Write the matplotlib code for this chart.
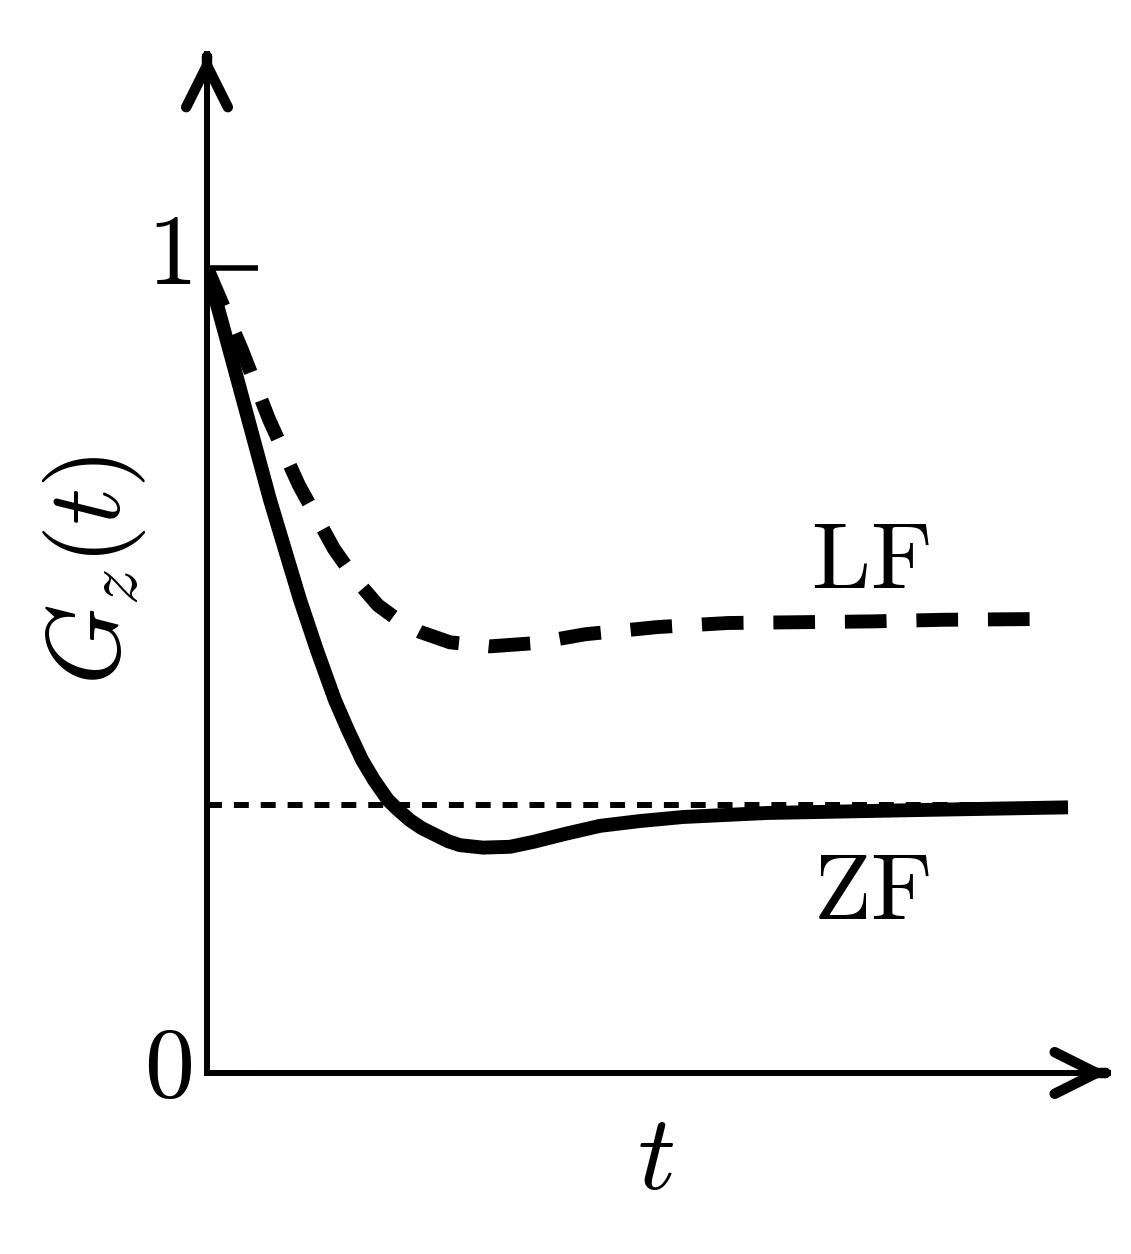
import matplotlib
matplotlib.use("Agg")
import matplotlib.pyplot as plt

plt.rcParams['mathtext.fontset'] = 'cm'
plt.rcParams['font.family'] = ['DejaVu Sans']

# ---- data (t in arbitrary units, G_z(t)) ----
zf_t = [0.00, 0.17, 0.36, 0.63, 0.93, 1.10, 1.28, 1.41, 1.55, 1.67, 1.81, 1.91,
        2.03, 2.15, 2.28, 2.41, 2.53, 2.76, 3.03, 3.26, 3.58, 3.93, 4.33, 4.76,
        5.60, 6.43, 7.26, 8.61]
zf_g = [1.000, 0.923, 0.836, 0.712, 0.588, 0.525, 0.463, 0.426, 0.389, 0.364, 0.339, 0.327,
        0.314, 0.304, 0.296, 0.288, 0.283, 0.280, 0.281, 0.287, 0.297, 0.307, 0.313, 0.318,
        0.323, 0.325, 0.327, 0.330]

lf_t = [0.00, 0.35, 0.62, 0.92, 1.27, 1.48, 1.71, 1.93, 2.13, 2.43, 2.83, 3.28, 3.78,
        4.51, 5.21, 5.93, 6.65, 7.36, 8.36]
lf_g = [1.000, 0.898, 0.812, 0.730, 0.651, 0.614, 0.581, 0.561, 0.548, 0.535, 0.530, 0.534, 0.545,
        0.554, 0.559, 0.560, 0.561, 0.563, 0.564]

asymptote = 1.0 / 3.0
ytick_vals = [0, 1]
ytick_labels = ['$0$', '$1$']

# ---- figure ----
W, H = 1131, 1254
fig = plt.figure(figsize=(W / 100, H / 100), dpi=100)
x0px, y0px = 207, 1073
ax = fig.add_axes([x0px / W, (H - y0px) / H, (1120 - x0px) / W, (y0px - 40) / H])
ax.set_xlim(0, (1120 - x0px) / 100)
ax.set_ylim(0, (y0px - 40) / 805)

# axis lines
for s in ['top', 'right']:
    ax.spines[s].set_visible(False)
ax.spines['left'].set_linewidth(4.3)
ax.spines['bottom'].set_linewidth(4.3)
ytip = 1.266
xtip = 9.01
ax.spines['left'].set_bounds(0, ytip)
ax.spines['bottom'].set_bounds(0, xtip)

# arrow heads
head = dict(arrowstyle='->,head_length=3.0,head_width=1.5', lw=7.5, color='black',
            mutation_scale=10, shrinkA=0, shrinkB=0)
ax.annotate('', xy=(0, ytip), xytext=(0, ytip - 0.004), arrowprops=head, annotation_clip=False)
ax.annotate('', xy=(xtip, 0), xytext=(xtip - 0.03, 0), arrowprops=head, annotation_clip=False)

# ticks (labels placed as text below)
ax.set_xticks([])
ax.set_yticks(ytick_vals)
ax.set_yticklabels([])
ax.tick_params(axis='y', direction='in', length=37, width=4, color='black')
ax.text(-0.38, 1.014, ytick_labels[1], fontsize=72, ha='center', va='center', clip_on=False)
ax.text(-0.39, 0.004, ytick_labels[0], fontsize=72, ha='center', va='center', clip_on=False)

# curves
ax.plot([zf_t[0], zf_t[-1]], [asymptote, asymptote], color='black', lw=4.3,
        dashes=(2.5, 2.0), dash_capstyle='butt')
ax.plot(zf_t, zf_g, color='black', lw=10, solid_capstyle='butt', solid_joinstyle='round')
ax.plot(lf_t, lf_g, color='black', lw=10, dashes=(3.0, 2.15), dash_capstyle='butt',
        dash_joinstyle='round')

# labels
ax.text(6.63, 0.635, r'$\mathrm{LF}$', fontsize=68, ha='center', va='center')
ax.text(6.65, 0.224, r'$\mathrm{ZF}$', fontsize=68, ha='center', va='center')
ax.text(4.48, -0.108, r'$t$', fontsize=76, ha='center', va='center', clip_on=False)
ax.text(-1.12, 0.625, r'$G_z(t)$', fontsize=74, ha='center', va='center',
        rotation=90, clip_on=False)

fig.savefig('out.png', dpi=100)
